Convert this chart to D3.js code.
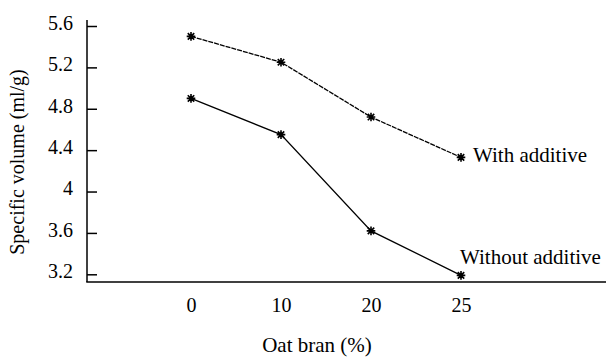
<!DOCTYPE html>
<html>
<head>
<meta charset="utf-8">
<script src="https://cdn.jsdelivr.net/npm/d3@7"></script>
<style>
  body { margin: 0; background: #fff; }
  text { font-family: "Liberation Serif", "Times New Roman", serif; fill: #000; }
</style>
</head>
<body>
<svg id="graph"></svg>
<script>
// data
var categories = ["0", "10", "20", "25"];
var withAdditive = [5.50, 5.25, 4.72, 4.33];
var withoutAdditive = [4.90, 4.55, 3.62, 3.19];
var yTicks = [3.2, 3.6, 4, 4.4, 4.8, 5.2, 5.6];
var seriesNames = ["With additive", "Without additive"];

function drawChart() {
    var width = 609, height = 358;
    var svg = d3.select("#graph")
        .attr("width", width)
        .attr("height", height);

    var axisX = 87, axisY = 282, axisRight = 606, axisTop = 20;

    var x = d3.scalePoint()
        .domain(categories)
        .range([axisX + 104, axisX + 374]);

    var y = d3.scaleLinear()
        .domain([3.2, 5.6])
        .range([274.3, 26]);

    // axis lines
    svg.append("line")
        .attr("x1", axisX).attr("x2", axisX)
        .attr("y1", axisTop).attr("y2", axisY)
        .attr("stroke", "#000").attr("stroke-width", 1.5);
    svg.append("line")
        .attr("x1", axisX - 0.75).attr("x2", axisRight)
        .attr("y1", axisY).attr("y2", axisY)
        .attr("stroke", "#000").attr("stroke-width", 1.5);

    // y axis: ticks point inwards
    var gy = svg.append("g")
        .attr("transform", "translate(" + axisX + ",0)")
        .call(d3.axisLeft(y).tickValues(yTicks).tickSizeInner(-10).tickSizeOuter(0).tickPadding(14).tickFormat(d => d));
    gy.select(".domain").remove();
    gy.selectAll(".tick line").attr("stroke", "#000").attr("stroke-width", 1.5);
    gy.selectAll(".tick text")
        .attr("font-family", "Liberation Serif")
        .attr("font-size", 20)
        .attr("dy", "0.17em");

    // x axis: labels only
    var gx = svg.append("g")
        .attr("transform", "translate(0," + axisY + ")")
        .call(d3.axisBottom(x).tickSize(0).tickPadding(16));
    gx.select(".domain").remove();
    gx.selectAll(".tick text")
        .attr("font-family", "Liberation Serif")
        .attr("font-size", 20);

    // axis titles
    svg.append("text")
        .attr("x", 317).attr("y", 352)
        .attr("text-anchor", "middle")
        .attr("font-size", 21)
        .text("Oat bran (%)");
    svg.append("text")
        .attr("transform", "translate(24,162) rotate(-90)")
        .attr("text-anchor", "middle")
        .attr("font-size", 20)
        .text("Specific volume (ml/g)");

    var line = d3.line()
        .x((d, i) => x(categories[i]))
        .y(d => y(d));

    var series = [
        { name: seriesNames[0], values: withAdditive, dash: "5,1", dx: 12, dy: 5 },
        { name: seriesNames[1], values: withoutAdditive, dash: null, dx: -1, dy: -11 }
    ];

    // asterisk marker
    var r = 4.3;
    var star = "M" + (-r) + ",0L" + r + ",0"
        + "M0," + (-r) + "L0," + r
        + "M" + (-r * 0.75) + "," + (-r * 0.75) + "L" + (r * 0.75) + "," + (r * 0.75)
        + "M" + (-r * 0.75) + "," + (r * 0.75) + "L" + (r * 0.75) + "," + (-r * 0.75);

    series.forEach(function (s) {
        svg.append("path")
            .datum(s.values)
            .attr("d", line)
            .attr("fill", "none")
            .attr("stroke", "#000")
            .attr("stroke-width", 1.3)
            .attr("stroke-dasharray", s.dash);

        svg.selectAll(null)
            .data(s.values)
            .enter()
            .append("path")
            .attr("transform", (d, i) => "translate(" + x(categories[i]) + "," + y(d) + ")")
            .attr("d", star)
            .attr("stroke", "#000")
            .attr("stroke-width", 1.6)
            .attr("fill", "none");

        var last = s.values.length - 1;
        svg.append("text")
            .attr("x", x(categories[last]) + s.dx)
            .attr("y", y(s.values[last]) + s.dy)
            .attr("font-size", 21)
            .text(s.name);
    });
}

drawChart();
</script>
</body>
</html>
